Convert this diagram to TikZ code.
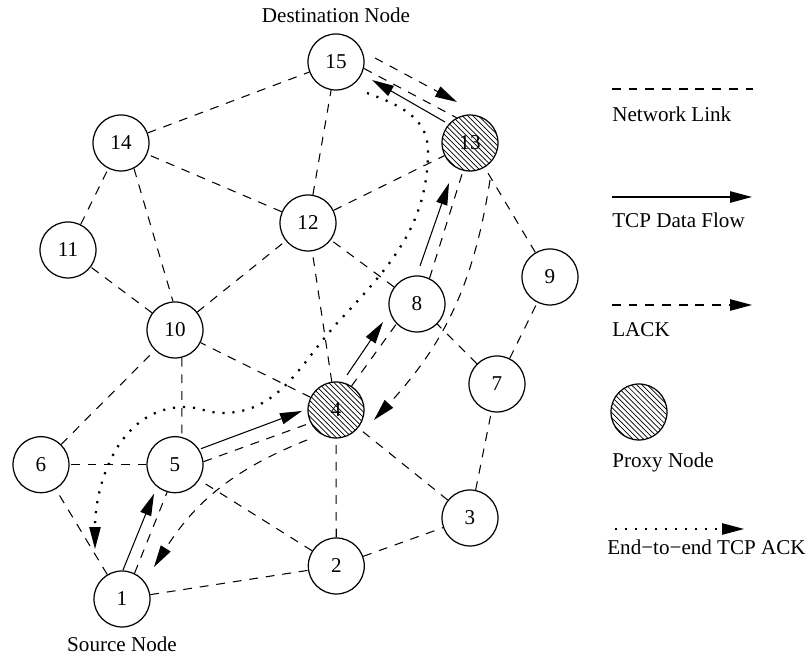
\documentclass[tikz,border=0pt]{standalone}
\usepackage{fontspec}
\setmainfont{Liberation Serif}
\usetikzlibrary{arrows.meta,patterns}

\tikzset{
	host/.style={circle, draw, line width=0.7pt, minimum size=11.2mm, inner sep=0pt},
	proxy/.style={host, pattern=north west lines},
	link/.style={line width=0.6pt, dash pattern=on 5pt off 4.5pt},
	data/.style={line width=0.6pt, -{Triangle[length=12.5pt,width=6.5pt]}},
	lack/.style={link, -{Triangle[length=12.5pt,width=6.5pt]}},
	e2e/.style={line width=1.3pt, dash pattern=on 1.2pt off 4.5pt, -{Triangle[length=12.5pt,width=6.5pt,line width=0.6pt]}},
	keytext/.style={anchor=base west, inner sep=0pt}
}

\begin{document}
\begin{tikzpicture}[x=0.2mm, y=0.2mm, font=\fontsize{12}{14}\selectfont]
	\useasboundingbox (0,0) rectangle (809,655);
	\node (15) at (336,593) [host] {15};
		\node (14) at (121,512) [host] {14}				edge[link] (15);
		\node (13) at (470,512) [proxy] {13};
			\node (12) at (308,432) [host] {12}			edge[link] (15)
														edge[link] (14)
														edge[link] (13);
			\node (11) at (68,405) [host] {11}			edge[link] (14);
				\node (10) at (175,325) [host] {10}		edge[link] (11)
														edge[link] (12);
			\node (9) at (550,378) [host] {9}			edge[link] (13);
				\node (8) at (417,351) [host] {8}		edge[link] (12);
				\node (7) at (497,271) [host] {7}		edge[link] (8)
														edge[link] (9);
					\node (4) at (336,245) [proxy] {4}	edge[link] (12)
														edge[link] (10);
	\node (6) at (41,190.3) [host] {6}					edge[link] (10);
		\node (5) at (175,190.3) [host] {5}				edge[link] (6);
		\node (3) at (470,137) [host] {3}				edge[link] (7)
														edge[link] (4);
			\node (2) at (336.3,89) [host] {2}			edge[link] (4)
														edge[link] (5)
														edge[link] (3);
				\node (1) at (122,56) [host] {1}		edge[link] (6)
														edge[link] (2);
	\draw[link] (15.-13) -- (13.118)
		  (14.-63) -- (10.94)
		  (10.-76) -- (5.76)
		  (1.64) -- (5.254)
		  (5.6) -- (4.207)
		  (4.57) -- (8.224)
		  (8.64) -- (13.256);
	\draw[data] ([shift={(1,29)}]1.center) -- ([shift={(-21,-29)}]5.center);
	\draw[data] ([shift={(26,16)}]5.center) -- ([shift={(-34,-1)}]4.center);
	\draw[data] ([shift={(11,35)}]4.center) -- ([shift={(-34,-18)}]8.center);
	\draw[data] ([shift={(3,38)}]8.center) -- ([shift={(-21,-40)}]13.center);
	\draw[data] ([shift={(-25,21)}]13.center) -- ([shift={(36,-18)}]15.center);
	\draw[lack] ([shift={(39,4)}]15.center) -- ([shift={(-13,41)}]13.center);
	\draw[lack] ([shift={(20,-37)}]13.center) to[bend left=17] ([shift={(38,-10)}]4.center);
	\draw[lack] ([shift={(-29,-30)}]4.center) to[bend right=18] ([shift={(32,32)}]1.center);
	\draw[e2e] ([shift={(31,-31)}]15.center) to[out=-20,in=90] (428,505)
		to[out=-90,in=47] (340,335) to[out=227,in=0] (222,242)
		to[out=180,in=0] (185,248) to[out=180,in=90] ([shift={(-27,50)}]1.center);
	\node (dst) at (336,632) [anchor=base] {Destination Node};
	\node (src) at (122,3) [anchor=base] {Source Node};
	\coordinate (linka) at (612,566);
	\coordinate (linkb) at (753,566);
	\coordinate (dataa) at (612,458);
	\coordinate (datab) at (752,458);
	\coordinate (lacka) at (612,350);
	\coordinate (lackb) at (752,350);
	\coordinate (e2ea) at (615,126);
	\coordinate (e2eb) at (744,126);
	\draw[link] (linka) -- (linkb);
	\draw[data] (dataa) -- (datab);
	\draw[lack] (lacka) -- (lackb);
	\draw[e2e] (e2ea) -- (e2eb);
	\node (keyproxy) at (639,243) [proxy] {};
	\node (keylink) at (612,533) [keytext] {Network Link};
	\node (keydata) at (612,427) [keytext] {TCP Data Flow};
	\node (keylack) at (612,318) [keytext] {LACK};
	\node (keyprx) at (612,187) [keytext] {Proxy Node};
	\node (keye2e) at (607,100) [keytext] {End−to−end TCP ACK};
\end{tikzpicture}
\end{document}
